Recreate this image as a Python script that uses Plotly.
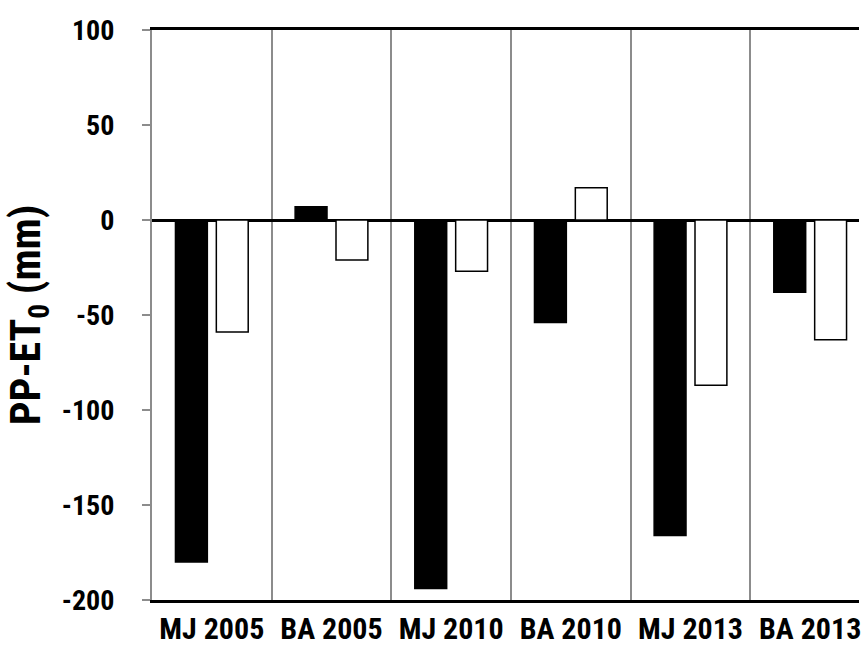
import plotly.graph_objects as go

# Sites and years
categories = ["MJ 2005", "BA 2005", "MJ 2010", "BA 2010", "MJ 2013", "BA 2013"]
# Precipitation minus reference evapotranspiration (mm)
series_black = [-180, 7, -194, -54, -166, -38]
series_white = [-59, -21, -27, 17, -87, -63]
y_ticks = [-200, -150, -100, -50, 0, 50, 100]
y_tick_text = ["-200", "-150", "-100", "-50", "0", "50", "100"]

FONT = "Roboto Condensed, Liberation Sans, Arial, sans-serif"

fig = go.Figure()
fig.add_trace(go.Bar(
    x=categories, y=series_black,
    marker=dict(color="black", line=dict(color="black", width=1.5)),
    showlegend=False,
))
fig.add_trace(go.Bar(
    x=categories, y=series_white,
    marker=dict(color="white", line=dict(color="black", width=1.5)),
    showlegend=False,
))

fig.update_layout(
    width=861, height=653,
    margin=dict(l=152, r=0, t=30, b=53),
    paper_bgcolor="white", plot_bgcolor="white",
    barmode="group", bargap=0.317, bargroupgap=0.22,
    font=dict(family=FONT, color="black"),
)
fig.update_xaxes(
    type="category",
    range=[-0.5, 5.408],
    tickson="boundaries",
    showgrid=True, gridcolor="#8c8c8c", gridwidth=1.5,
    showline=True, linecolor="black", linewidth=3, mirror=True,
    ticks="", ticklen=0,
    tickfont=dict(size=30, family=FONT, color="black", weight="bold"),
)
fig.update_yaxes(
    range=[-200, 100],
    tickvals=y_ticks, ticktext=y_tick_text,
    showgrid=False,
    zeroline=True, zerolinecolor="black", zerolinewidth=3,
    showline=True, linecolor="#8c8c8c", linewidth=2,
    ticks="outside", ticklen=8, tickcolor="#8c8c8c", tickwidth=1.5,
    ticklabelstandoff=22,
    tickfont=dict(size=28, family=FONT, color="black", weight="bold"),
    title=dict(text="<b>PP-ET<sub>0</sub> (mm)</b>",
               font=dict(size=42, family=FONT, weight="bold"), standoff=8),
)

fig.write_html("out.html")
